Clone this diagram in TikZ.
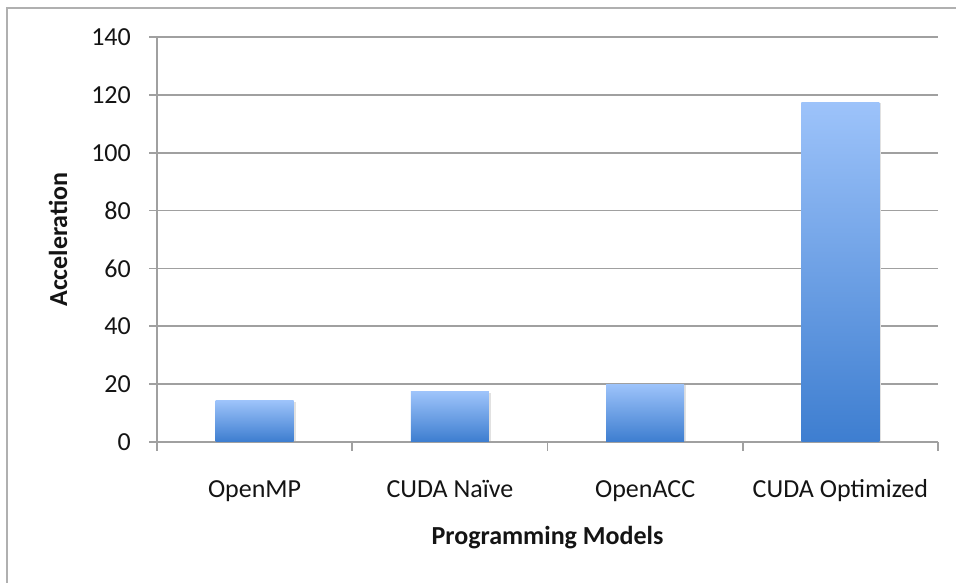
\documentclass[tikz,border=0pt]{standalone}
\usepackage{fontspec}
\setmainfont{Carlito}
\begin{document}
\begin{tikzpicture}[x=1pt,y=-1pt,
  gridline/.style={draw=gridgray,line width=1.6pt},
  ticklabel/.style={anchor=east,inner sep=0pt,font=\fontsize{26}{30}\selectfont,text=txt},
  catlabel/.style={anchor=base,inner sep=0pt,font=\fontsize{26}{30}\selectfont,text=txt},
  axtitle/.style={inner sep=0pt,font=\fontsize{26}{30}\selectfont\bfseries,text=txt},
  barfill/.style={top color=bartop,bottom color=barbot,draw=none}]
\definecolor{gridgray}{RGB}{160,160,160}
\definecolor{framegray}{RGB}{176,176,176}
\definecolor{txt}{RGB}{20,20,20}
\definecolor{bartop}{RGB}{157,195,250}
\definecolor{barbot}{RGB}{62,126,208}
\definecolor{shadowc}{RGB}{225,225,225}
\useasboundingbox (0,0) rectangle (956,582);
% outer frame (runs off the right and bottom edges)
\draw[framegray,line width=2pt] (6.5,600) -- (6.5,7.5) -- (970,7.5);
% horizontal grid lines and value labels
\foreach \v/\lab in {0/0,1/20,2/40,3/60,4/80,5/100,6/120,7/140}{
  \pgfmathsetmacro{\yy}{442-57.86*\v}
  \draw[gridline] (149,\yy) -- (938,\yy);
  \node[ticklabel] (yl\v) at (131,\yy) {\lab};
}
% vertical axis
\draw[gridline] (157,37.5) -- (157,451);
% category ticks on the horizontal axis
\foreach \xx in {352.25,547.5,742.75,938}{
  \draw[gridline] (\xx,442) -- (\xx,451);
}
% bars: value v -> top at 442 - 2.893 v
\foreach \c/\val/\name in {254.6/14.3/b1,449.9/17.3/b2,645.1/20.0/b3,840.4/117.5/b4}{
  \pgfmathsetmacro{\top}{442-2.893*\val}
  \fill[shadowc] (\c-38,\top+1) rectangle (\c+41,441);
  \shade[barfill] (\c-39,\top) rectangle (\c+39,441.2);
  \coordinate (\name) at (\c,\top);
}
% category labels
\node[catlabel] (c1) at (254.6,497) {OpenMP};
\node[catlabel] (c2) at (449.9,497) {CUDA Naïve};
\node[catlabel] (c3) at (645.1,497) {OpenACC};
\node[catlabel] (c4) at (840.4,497) {CUDA Optimized};
% axis titles
\node[axtitle] (xt) at (547.5,538) {Programming Models};
\node[axtitle,rotate=90] (yt) at (58,239.5) {Acceleration};
\end{tikzpicture}
\end{document}
